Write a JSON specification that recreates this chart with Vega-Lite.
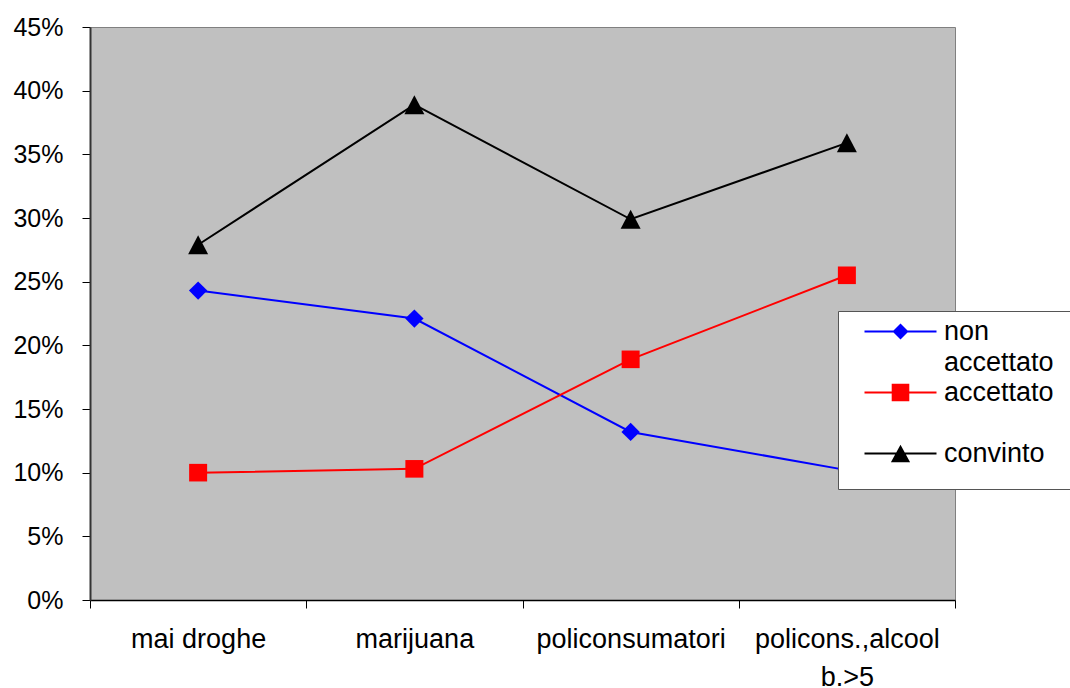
{
  "$schema": "https://vega.github.io/schema/vega-lite/v6.json",
  "width": 865,
  "height": 573,
  "autosize": {"type": "none"},
  "padding": {"left": 90, "top": 27, "right": 115, "bottom": 88},
  "background": "white",
  "config": {
    "font": "Liberation Sans",
    "view": {"fill": "#C0C0C0", "stroke": "#808080", "strokeWidth": 1},
    "axis": {"labelFont": "Liberation Sans", "labelColor": "#000000", "grid": false, "tickColor": "#000000", "title": null},
    "style": {"guide-label": {"lineHeight": 31}}
  },
  "data": {
    "values": [
      {"cat": "mai droghe", "series": "non accettato", "value": 0.243},
      {"cat": "mai droghe", "series": "accettato", "value": 0.100},
      {"cat": "mai droghe", "series": "convinto", "value": 0.279},
      {"cat": "marijuana", "series": "non accettato", "value": 0.221},
      {"cat": "marijuana", "series": "accettato", "value": 0.103},
      {"cat": "marijuana", "series": "convinto", "value": 0.389},
      {"cat": "policonsumatori", "series": "non accettato", "value": 0.132},
      {"cat": "policonsumatori", "series": "accettato", "value": 0.189},
      {"cat": "policonsumatori", "series": "convinto", "value": 0.299},
      {"cat": "policons.,alcool b.>5", "series": "non accettato", "value": 0.102},
      {"cat": "policons.,alcool b.>5", "series": "accettato", "value": 0.255},
      {"cat": "policons.,alcool b.>5", "series": "convinto", "value": 0.359}
    ]
  },
  "encoding": {
    "x": {
      "field": "cat",
      "type": "nominal",
      "sort": ["mai droghe", "marijuana", "policonsumatori", "policons.,alcool b.>5"],
      "scale": {"type": "band", "paddingInner": 0, "paddingOuter": 0},
      "axis": {
        "tickBand": "extent",
        "labelAngle": 0,
        "labelFontSize": 27,
        "labelPadding": 18,
        "labelLineHeight": 38,
        "labelLimit": 400,
        "labelOverlap": false,
        "labelExpr": "datum.value == 'policons.,alcool b.>5' ? ['policons.,alcool', 'b.>5'] : datum.label",
        "tickSize": 8,
        "tickWidth": 1,
        "domainColor": "#000000",
        "domainWidth": 1.5
      }
    },
    "y": {
      "field": "value",
      "type": "quantitative",
      "scale": {"domain": [0, 0.45], "nice": false},
      "axis": {
        "values": [0, 0.05, 0.1, 0.15, 0.2, 0.25, 0.3, 0.35, 0.4, 0.45],
        "format": ".0%",
        "labelFontSize": 25,
        "labelPadding": 19,
        "tickSize": 8,
        "tickWidth": 1,
        "domainColor": "#333333",
        "domainWidth": 2
      }
    }
  },
  "layer": [
    {
      "mark": {"type": "line", "strokeWidth": 2},
      "encoding": {
        "stroke": {
          "field": "series",
          "type": "nominal",
          "scale": {"domain": ["accettato", "convinto", "non accettato"], "range": ["#FF0000", "#000000", "#0000FF"]},
          "legend": null
        }
      }
    },
    {
      "transform": [{"filter": "datum.series == 'non accettato'"}],
      "mark": {"type": "point", "filled": true, "opacity": 1, "size": 400, "color": "#0000FF", "shape": "M0,-0.92L0.92,0L0,0.92L-0.92,0Z"},
      "encoding": {}
    },
    {
      "transform": [{"filter": "datum.series == 'accettato'"}],
      "mark": {"type": "point", "filled": true, "opacity": 1, "size": 400, "color": "#FF0000", "shape": "M-0.9,-0.88H0.9V0.88H-0.9Z"},
      "encoding": {}
    },
    {
      "transform": [{"filter": "datum.series == 'convinto'"}],
      "mark": {"type": "point", "filled": true, "opacity": 1, "size": 400, "color": "#000000", "shape": "M0,-0.95L1,0.95L-1,0.95Z"},
      "encoding": {}
    },
    {
      "transform": [{"filter": "datum.value < 0"}],
      "mark": {"type": "point", "filled": true, "opacity": 1},
      "encoding": {
        "color": {
          "field": "series",
          "type": "nominal",
          "scale": {"domain": ["non accettato", "accettato", "convinto"], "range": ["#0000FF", "#FF0000", "#000000"]},
          "legend": {
            "title": null,
            "orient": "none",
            "legendX": 748,
            "legendY": 284,
            "fillColor": "#FFFFFF",
            "strokeColor": "#555555",
            "padding": 7,
            "symbolSize": 256,
            "symbolStrokeWidth": 0,
            "symbolOpacity": 1,
            "symbolOffset": 42,
            "labelOffset": 30,
            "labelFont": "Liberation Sans",
            "labelFontSize": 27,
            "labelColor": "#000000",
            "labelBaseline": "middle",
            "labelLimit": 400,
            "gridAlign": "all",
            "rowPadding": 2,
            "labelExpr": "datum.label == 'non accettato' ? ['non', 'accettato'] : datum.label"
          }
        },
        "shape": {
          "field": "series",
          "type": "nominal",
          "scale": {
            "domain": ["non accettato", "accettato", "convinto"],
            "range": [
              "M-4.5,-0.13H4.5V0.13H-4.5ZM0,-1L1,0L0,1L-1,0Z",
              "M-4.5,-0.13H4.5V0.13H-4.5ZM-1.1,-1.1H1.1V1.1H-1.1Z",
              "M-4.5,-0.13H4.5V0.13H-4.5ZM0,-1.1L1.2,1.1L-1.2,1.1ZM22.5,3.5"
            ]
          },
          "legend": {
            "title": null,
            "orient": "none",
            "legendX": 748,
            "legendY": 284,
            "fillColor": "#FFFFFF",
            "strokeColor": "#555555",
            "padding": 7,
            "symbolSize": 256,
            "symbolStrokeWidth": 0,
            "symbolOpacity": 1,
            "symbolOffset": 42,
            "labelOffset": 30,
            "labelFont": "Liberation Sans",
            "labelFontSize": 27,
            "labelColor": "#000000",
            "labelBaseline": "middle",
            "labelLimit": 400,
            "gridAlign": "all",
            "rowPadding": 2,
            "labelExpr": "datum.label == 'non accettato' ? ['non', 'accettato'] : datum.label"
          }
        }
      }
    }
  ]
}
